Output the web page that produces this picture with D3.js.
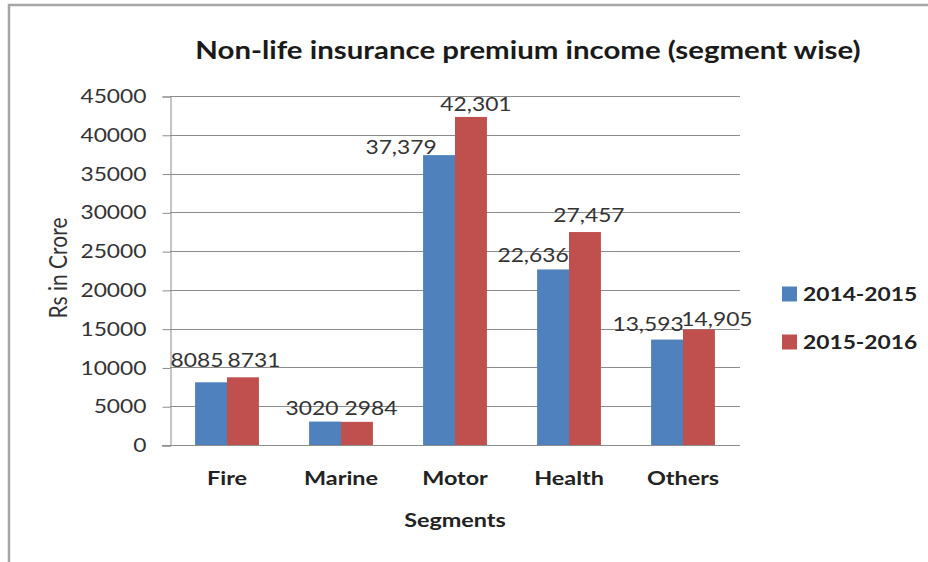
<!DOCTYPE html>
<html>
<head>
<meta charset="utf-8">
<script src="https://cdn.jsdelivr.net/npm/d3@7"></script>
<style>
  body { margin: 0; background: #fff; }
  svg { display: block; font-family: Lato, "Open Sans", sans-serif; }
</style>
</head>
<body>
<div id="chart"></div>
<script>
const segments = ["Fire", "Marine", "Motor", "Health", "Others"];
const years = ["2014-2015", "2015-2016"];
const premium2014 = [8085, 3020, 37379, 22636, 13593];
const premium2015 = [8731, 2984, 42301, 27457, 14905];
const labelText2014 = ["8085", "3020", "37,379", "22,636", "13,593"];
const labelText2015 = ["8731", "2984", "42,301", "27,457", "14,905"];
const yTicks = [0, 5000, 10000, 15000, 20000, 25000, 30000, 35000, 40000, 45000];

// label nudges (dx, dy) so labels sit where the original had them
const nudge2014 = [[-14, -15], [-13, -7], [-38, -1], [-20, -7], [-19, -9]];
const nudge2015 = [[11, -10], [14, -7], [5, -6], [4, -10], [18, -3]];

const colors = ["#4f81bd", "#c0504d"];
const width = 928, height = 562;
const plot = {left: 170, right: 740, top: 96, bottom: 445};
const sx = 1.2; // the source screenshot is stretched sideways, text too

const svg = d3.select("#chart").append("svg")
  .attr("width", width)
  .attr("height", height);

// widen text around its anchor point
function stretch(sel) {
  sel.each(function () {
    const t = d3.select(this);
    const x = +t.attr("x") || 0, y = +t.attr("y") || 0;
    t.attr("x", 0).attr("y", 0)
      .attr("transform", `translate(${x},${y}) scale(${sx},1)`);
  });
}

// outer chart frame
svg.append("path")
  .attr("d", `M9,${height + 5}V5H${width + 5}`)
  .attr("fill", "none")
  .attr("stroke", "#a6a6a6")
  .attr("stroke-width", 2.5);

const x0 = d3.scaleBand()
  .domain(segments)
  .range([plot.left, plot.right])
  .paddingInner(0.44)
  .paddingOuter(0.22);

const x1 = d3.scaleBand()
  .domain(years)
  .range([0, x0.bandwidth()]);

const y = d3.scaleLinear()
  .domain([0, 45000])
  .range([plot.bottom, plot.top]);

// gridlines
svg.append("g")
  .selectAll("line")
  .data(yTicks.slice(1))
  .join("line")
  .attr("x1", plot.left)
  .attr("x2", plot.right)
  .attr("y1", d => Math.round(y(d)) + 0.5)
  .attr("y2", d => Math.round(y(d)) + 0.5)
  .attr("stroke", "#8c8c8c")
  .attr("stroke-width", 1);

// y axis
const yAxis = svg.append("g")
  .attr("transform", `translate(${plot.left + 0.5},0.5)`)
  .call(d3.axisLeft(y).tickValues(yTicks).tickSize(8).tickPadding(16).tickFormat(d3.format("d")));
yAxis.select(".domain").attr("stroke", "#8c8c8c");
yAxis.selectAll(".tick line").attr("stroke", "#8c8c8c");
yAxis.selectAll(".tick text")
  .attr("font-size", 19)
  .attr("font-family", "Lato, sans-serif")
  .attr("fill", "#333")
  .call(stretch);

// bars
const rows = segments.map((s, i) => ({
  segment: s,
  values: [
    {year: years[0], value: premium2014[i], text: labelText2014[i], nudge: nudge2014[i]},
    {year: years[1], value: premium2015[i], text: labelText2015[i], nudge: nudge2015[i]}
  ]
}));

const groups = svg.append("g")
  .selectAll("g")
  .data(rows)
  .join("g")
  .attr("transform", d => `translate(${x0(d.segment)},0)`);

groups.selectAll("rect")
  .data(d => d.values)
  .join("rect")
  .attr("x", d => x1(d.year))
  .attr("y", d => y(d.value))
  .attr("width", x1.bandwidth())
  .attr("height", d => y(0) - y(d.value))
  .attr("fill", (d, i) => colors[i]);

groups.selectAll("text")
  .data(d => d.values)
  .join("text")
  .attr("x", d => x1(d.year) + x1.bandwidth() / 2 + d.nudge[0])
  .attr("y", d => y(d.value) + d.nudge[1])
  .attr("text-anchor", "middle")
  .attr("font-size", 19)
  .attr("fill", "#333")
  .text(d => d.text)
  .call(stretch);

// x axis line
svg.append("line")
  .attr("x1", plot.left - 8)
  .attr("x2", plot.right)
  .attr("y1", plot.bottom + 0.5)
  .attr("y2", plot.bottom + 0.5)
  .attr("stroke", "#8c8c8c");

// category labels
svg.append("g")
  .selectAll("text")
  .data(segments)
  .join("text")
  .attr("x", d => x0(d) + x0.bandwidth() / 2)
  .attr("y", 485)
  .attr("text-anchor", "middle")
  .attr("font-size", 19.5)
  .attr("font-weight", "bold")
  .attr("fill", "#222")
  .text(d => d)
  .call(stretch);

// title
svg.append("text")
  .attr("x", 528)
  .attr("y", 59)
  .attr("text-anchor", "middle")
  .attr("font-size", 24.5)
  .attr("font-weight", "bold")
  .attr("fill", "#1a1a1a")
  .text("Non-life insurance premium income (segment wise)")
  .call(stretch);

// axis titles
svg.append("text")
  .attr("x", 455)
  .attr("y", 527)
  .attr("text-anchor", "middle")
  .attr("font-size", 19.5)
  .attr("font-weight", "bold")
  .attr("fill", "#222")
  .text("Segments")
  .call(stretch);

svg.append("text")
  .attr("transform", `translate(67,268) scale(${sx},1) rotate(-90)`)
  .attr("text-anchor", "middle")
  .attr("font-size", 21)
  .attr("fill", "#333")
  .text("Rs in Crore");

// legend
const legend = svg.append("g")
  .selectAll("g")
  .data(years)
  .join("g")
  .attr("transform", (d, i) => `translate(782,${294 + i * 48})`);

legend.append("rect")
  .attr("y", -7.5)
  .attr("width", 15)
  .attr("height", 15)
  .attr("fill", (d, i) => colors[i]);

legend.append("text")
  .attr("x", 21)
  .attr("y", 7)
  .attr("font-size", 19)
  .attr("font-weight", "bold")
  .attr("fill", "#222")
  .text(d => d)
  .call(stretch);
</script>
</body>
</html>
